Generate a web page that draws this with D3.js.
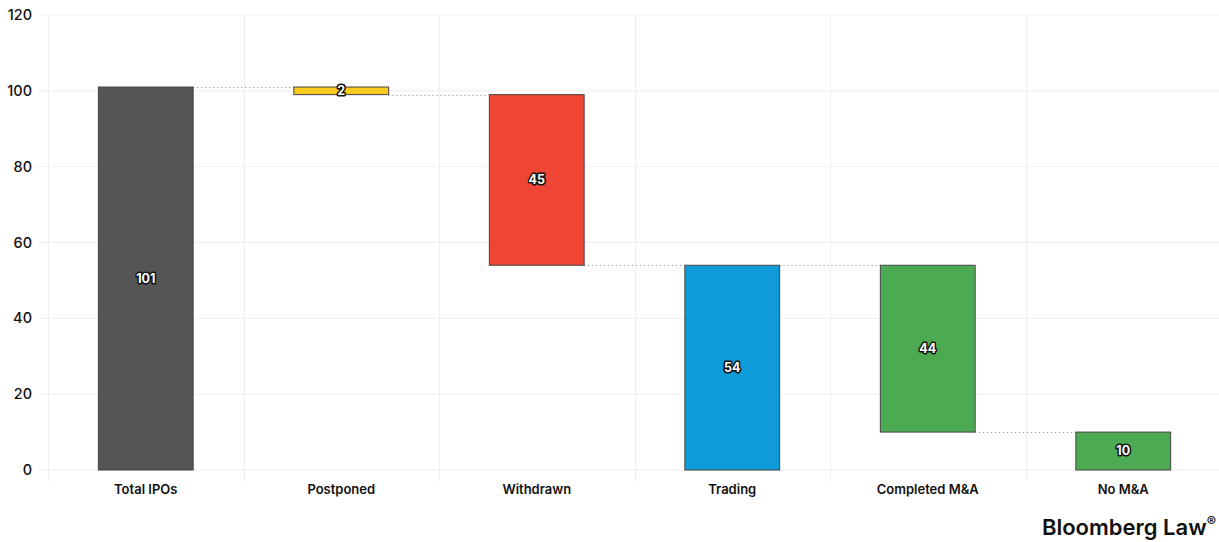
<!DOCTYPE html>
<html>
<head>
<meta charset="utf-8">
<script src="https://cdn.jsdelivr.net/npm/d3@7"></script>
<style>
  html, body { margin: 0; padding: 0; background: #fff; }
  svg { display: block; font-family: Inter, "Noto Sans", sans-serif; }
</style>
</head>
<body>
<svg id="chart" width="1219" height="542"></svg>
<script>
// waterfall: each step has a start and end value
const categories = ['Total IPOs', 'Postponed', 'Withdrawn', 'Trading', 'Completed M&A', 'No M&A'];
const stepStart = [0, 101, 99, 0, 54, 0];
const stepEnd = [101, 99, 54, 54, 10, 10];
const stepLabels = ['101', '2', '45', '54', '44', '10'];
const barColors = ['#555555', '#fcc91f', '#ef4535', '#0f9bd8', '#4caa52', '#4caa52'];
const yTicks = [0, 20, 40, 60, 80, 100, 120];

const W = 1219, H = 542;
const plot = { left: 48, right: 1221, top: 15, bottom: 470 };

const svg = d3.select('#chart');

const x = d3.scaleBand()
     .domain(categories)
     .range([plot.left, plot.right])
     .paddingInner(0).paddingOuter(0);

const y = d3.scaleLinear()
     .domain([0, 120])
     .range([plot.bottom, plot.top]);

const barW = x.bandwidth() * 0.485;
const barX = c => x(c) + (x.bandwidth() - barW) / 2;

// grid: horizontal
svg.append('g')
     .selectAll('line')
     .data(yTicks)
     .join('line')
     .attr('x1', 37).attr('x2', W)
     .attr('y1', d => y(d)).attr('y2', d => y(d))
     .attr('stroke', '#efefef').attr('stroke-width', 1);

// grid: vertical band separators
const seps = categories.map(c => x(c)).concat([x(categories[categories.length - 1]) + x.bandwidth()]);
svg.append('g')
     .selectAll('line')
     .data(seps)
     .join('line')
     .attr('x1', d => Math.round(d) + 0.5).attr('x2', d => Math.round(d) + 0.5)
     .attr('y1', plot.top).attr('y2', plot.bottom + 11)
     .attr('stroke', '#efefef').attr('stroke-width', 1);

// y tick labels
svg.append('g')
     .selectAll('text')
     .data(yTicks)
     .join('text')
     .attr('x', 32)
     .attr('y', d => y(d))
     .attr('dy', '0.35em')
     .attr('text-anchor', 'end')
     .attr('font-size', '14.5px')
     .attr('font-weight', 500)
     .attr('fill', '#111')
     .text(d => d);

// connectors
const connectors = d3.range(categories.length - 1).map(i => ({ from: i, to: i + 1, v: stepEnd[i] }));
svg.append('g')
     .selectAll('line')
     .data(connectors)
     .join('line')
     .attr('x1', d => barX(categories[d.from]) + barW)
     .attr('x2', d => barX(categories[d.to]))
     .attr('y1', d => Math.round(y(d.v)) + 0.5)
     .attr('y2', d => Math.round(y(d.v)) + 0.5)
     .attr('stroke', '#888')
     .attr('stroke-width', 1)
     .attr('stroke-dasharray', '1,3');

// bars
svg.append('g')
     .selectAll('rect')
     .data(categories)
     .join('rect')
     .attr('x', c => barX(c))
     .attr('y', (c, i) => y(Math.max(stepStart[i], stepEnd[i])))
     .attr('width', barW)
     .attr('height', (c, i) => Math.abs(y(stepStart[i]) - y(stepEnd[i])))
     .attr('fill', (c, i) => barColors[i])
     .attr('stroke', '#444')
     .attr('stroke-width', 1);

// value labels with dark halo
svg.append('g')
     .selectAll('text')
     .data(categories)
     .join('text')
     .attr('x', c => barX(c) + barW / 2)
     .attr('y', (c, i) => y((stepStart[i] + stepEnd[i]) / 2))
     .attr('dy', '0.35em')
     .attr('text-anchor', 'middle')
     .attr('font-size', '12.5px')
     .attr('font-weight', 700)
     .attr('fill', '#fff')
     .attr('stroke', '#111')
     .attr('stroke-width', 3)
     .attr('stroke-linejoin', 'round')
     .attr('paint-order', 'stroke')
     .text((c, i) => stepLabels[i]);

// x category labels
svg.append('g')
     .selectAll('text')
     .data(categories)
     .join('text')
     .attr('x', c => x(c) + x.bandwidth() / 2)
     .attr('y', 489)
     .attr('dy', '0.35em')
     .attr('text-anchor', 'middle')
     .attr('font-size', '13px')
     .attr('font-weight', 600)
     .attr('fill', '#111')
     .text(c => c);

// branding
const brand = svg.append('text')
     .attr('x', 1216).attr('y', 535)
     .attr('text-anchor', 'end')
     .attr('font-size', '22px')
     .attr('font-weight', 600)
     .attr('fill', '#111');
brand.append('tspan').text('Bloomberg Law');
brand.append('tspan').attr('font-size', '14px').attr('dy', '-8').text('®');
</script>
</body>
</html>
